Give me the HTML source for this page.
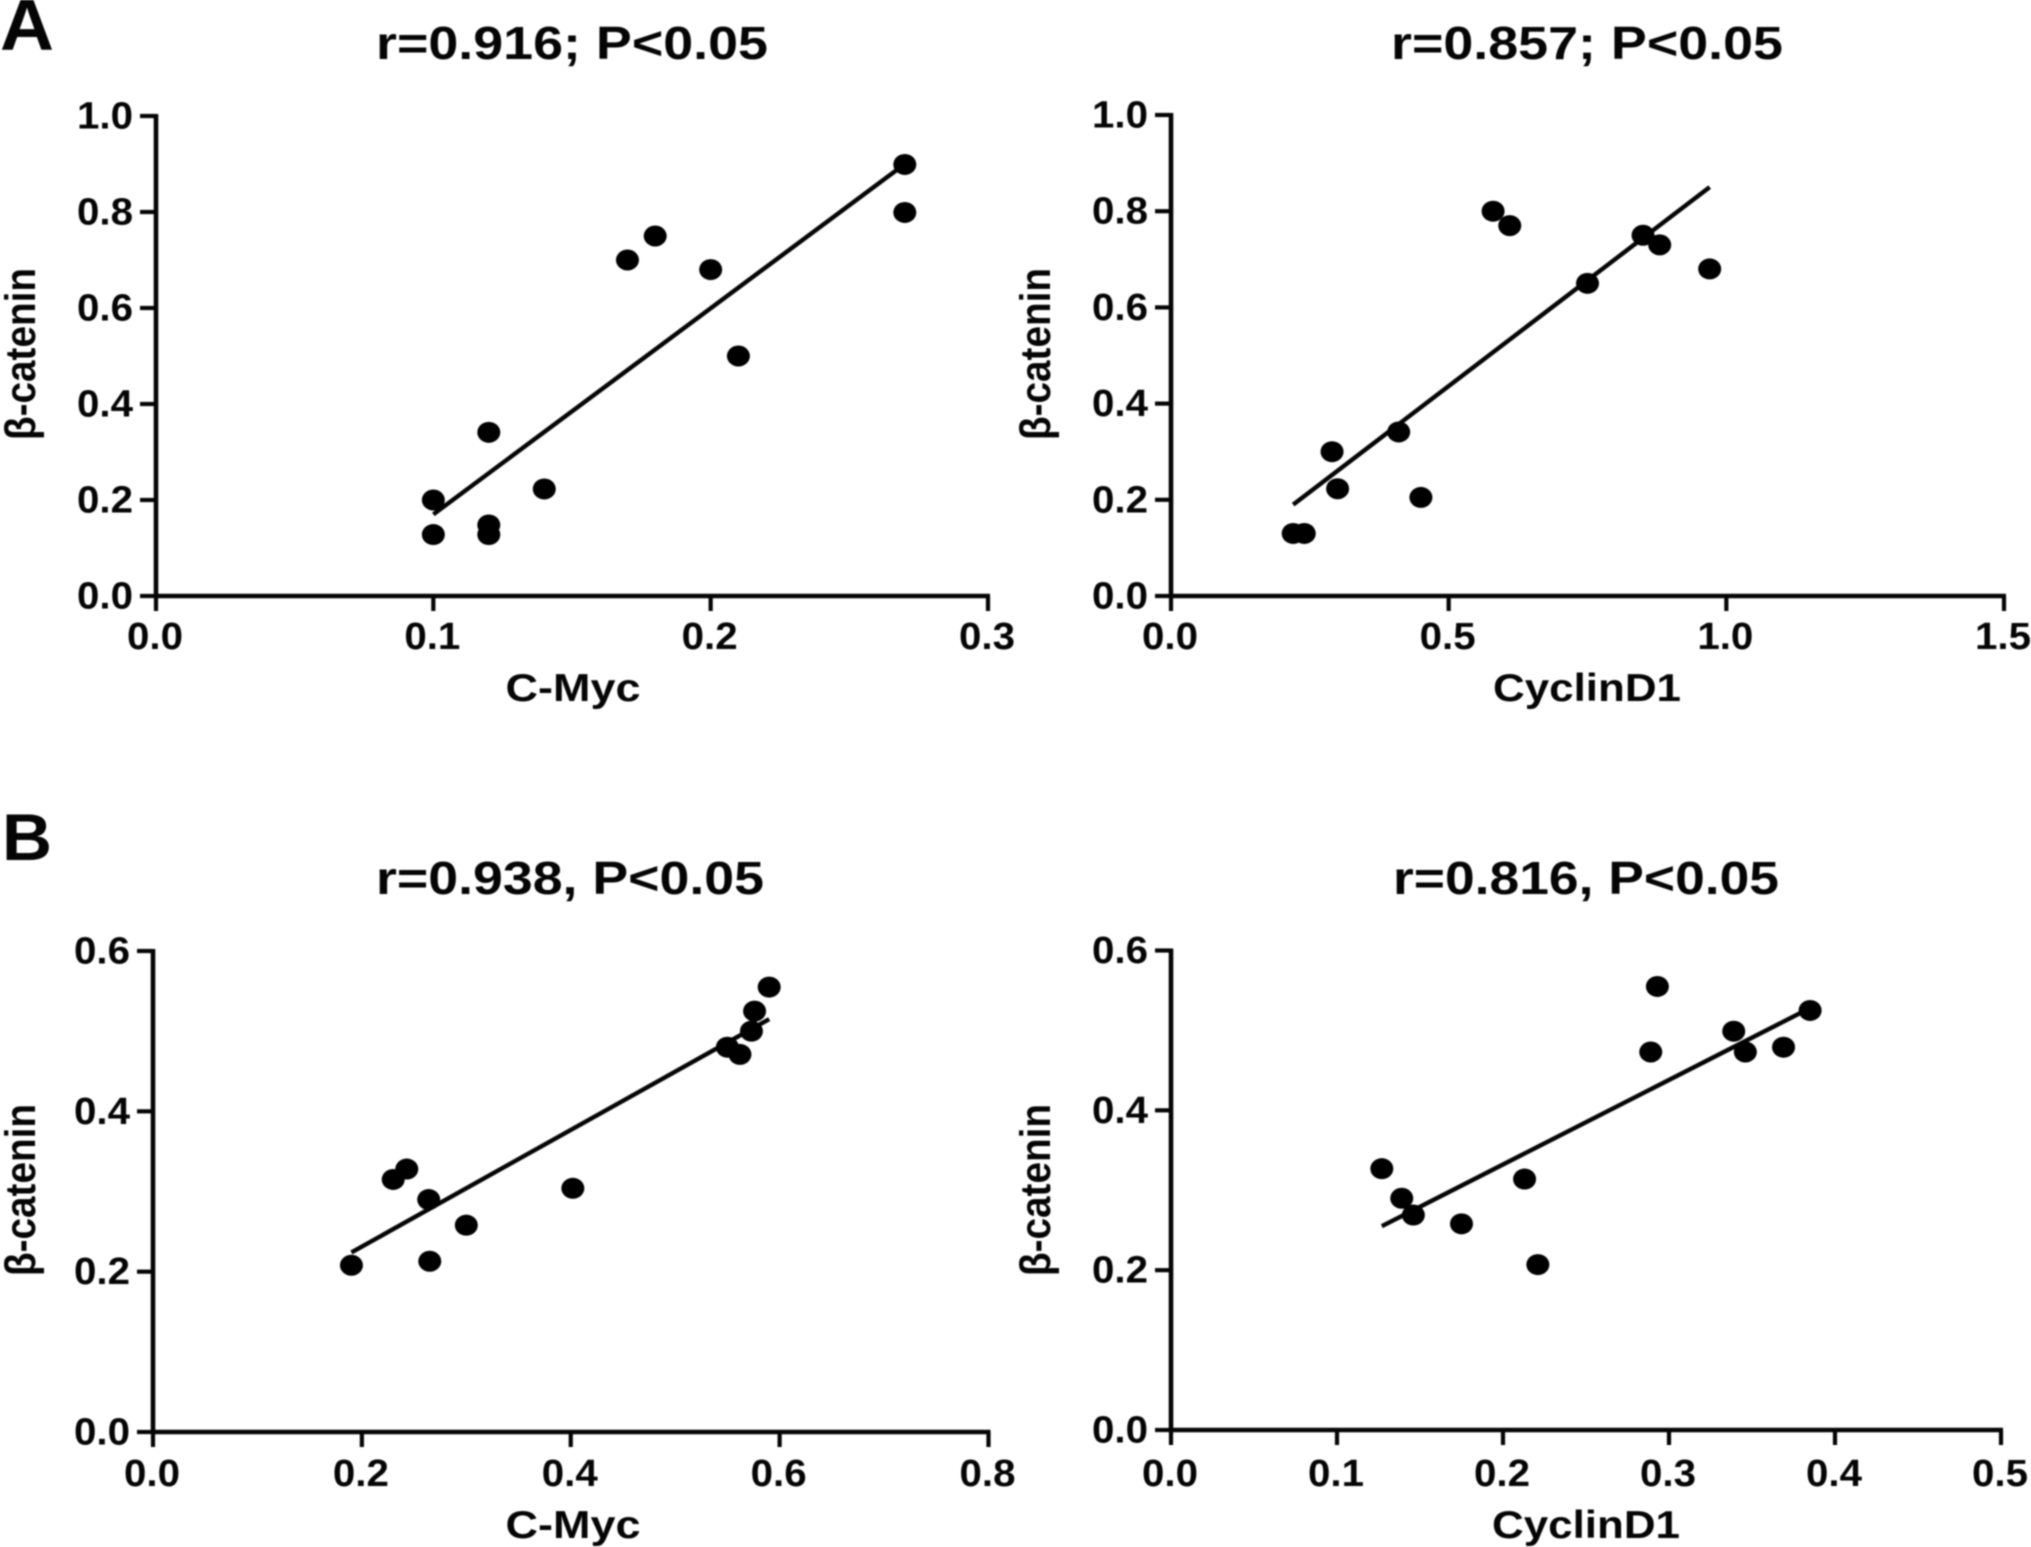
<!DOCTYPE html>
<html lang="en">
<head>
<meta charset="utf-8">
<title>β-catenin correlation scatter plots</title>
<style>
html,body{margin:0;padding:0;background:#fff;width:2031px;height:1547px;overflow:hidden}
svg{display:block;filter:blur(0.8px)}
text{font-family:"Liberation Sans",sans-serif;font-weight:bold;fill:#050505}
.title{font-size:46px;text-anchor:middle}
.axis-label{font-size:39px;text-anchor:middle}
.y-title{font-size:43px;text-anchor:middle}
.tick-label{font-size:38px}
.panel-letter{font-size:66px}
</style>
</head>
<body>
<svg id="figure" xmlns="http://www.w3.org/2000/svg" width="2031" height="1547" viewBox="0 0 2031 1547">
  <rect width="2031" height="1547" fill="#fff"/>
  <text class="panel-letter" style="font-size:72px" x="0" y="49.5" textLength="54" lengthAdjust="spacingAndGlyphs">A</text>
  <text class="panel-letter" x="2" y="860" textLength="50" lengthAdjust="spacingAndGlyphs">B</text>

  <text class="title" x="572" y="59" textLength="392" lengthAdjust="spacingAndGlyphs">r=0.916; P&lt;0.05</text>
  <text class="title" x="1587" y="59" textLength="392" lengthAdjust="spacingAndGlyphs">r=0.857; P&lt;0.05</text>
  <text class="title" x="570" y="894" textLength="388" lengthAdjust="spacingAndGlyphs">r=0.938, P&lt;0.05</text>
  <text class="title" x="1586" y="894" textLength="386" lengthAdjust="spacingAndGlyphs">r=0.816, P&lt;0.05</text>

  <text class="axis-label" x="573" y="701" textLength="135" lengthAdjust="spacingAndGlyphs">C-Myc</text>
  <text class="axis-label" x="1587" y="701" textLength="188" lengthAdjust="spacingAndGlyphs">CyclinD1</text>
  <text class="axis-label" x="573" y="1538" textLength="135" lengthAdjust="spacingAndGlyphs">C-Myc</text>
  <text class="axis-label" x="1586" y="1538" textLength="188" lengthAdjust="spacingAndGlyphs">CyclinD1</text>

  <text class="y-title" transform="translate(35,354) rotate(-90)" textLength="172" lengthAdjust="spacingAndGlyphs">β-catenin</text>
  <text class="y-title" transform="translate(1050,354) rotate(-90)" textLength="172" lengthAdjust="spacingAndGlyphs">β-catenin</text>
  <text class="y-title" transform="translate(35,1190) rotate(-90)" textLength="172" lengthAdjust="spacingAndGlyphs">β-catenin</text>
  <text class="y-title" transform="translate(1050,1190) rotate(-90)" textLength="172" lengthAdjust="spacingAndGlyphs">β-catenin</text>
</svg>
<script>
// Panel A, left: C-Myc vs beta-catenin
const aLeftXValues = [0.1, 0.1, 0.12, 0.12, 0.12, 0.14, 0.17, 0.18, 0.2, 0.21, 0.27, 0.27];
const aLeftYValues = [0.2, 0.128, 0.341, 0.148, 0.128, 0.223, 0.7, 0.75, 0.68, 0.5, 0.899, 0.799];
const aLeftFitX = [0.1, 0.27];
const aLeftFitY = [0.17, 0.9];
const aLeftXTicks = ['0.0', '0.1', '0.2', '0.3'];
const aLeftYTicks = ['0.0', '0.2', '0.4', '0.6', '0.8', '1.0'];

// Panel A, right: CyclinD1 vs beta-catenin
const aRightXValues = [0.22, 0.24, 0.29, 0.3, 0.41, 0.45, 0.58, 0.61, 0.75, 0.85, 0.88, 0.97];
const aRightYValues = [0.13, 0.13, 0.3, 0.223, 0.341, 0.205, 0.8, 0.77, 0.65, 0.75, 0.73, 0.68];
const aRightFitX = [0.22, 0.97];
const aRightFitY = [0.19, 0.85];
const aRightXTicks = ['0.0', '0.5', '1.0', '1.5'];
const aRightYTicks = ['0.0', '0.2', '0.4', '0.6', '0.8', '1.0'];

// Panel B, left: C-Myc vs beta-catenin
const bLeftXValues = [0.19, 0.23, 0.243, 0.264, 0.265, 0.3, 0.402, 0.55, 0.562, 0.573, 0.576, 0.59];
const bLeftYValues = [0.208, 0.315, 0.328, 0.29, 0.213, 0.258, 0.304, 0.48, 0.471, 0.5, 0.525, 0.555];
const bLeftFitX = [0.19, 0.59];
const bLeftFitY = [0.224, 0.515];
const bLeftXTicks = ['0.0', '0.2', '0.4', '0.6', '0.8'];
const bLeftYTicks = ['0.0', '0.2', '0.4', '0.6'];

// Panel B, right: CyclinD1 vs beta-catenin
const bRightXValues = [0.127, 0.139, 0.146, 0.175, 0.213, 0.221, 0.289, 0.293, 0.339, 0.346, 0.369, 0.385];
const bRightYValues = [0.327, 0.29, 0.269, 0.258, 0.314, 0.207, 0.473, 0.555, 0.499, 0.473, 0.479, 0.525];
const bRightFitX = [0.127, 0.385];
const bRightFitY = [0.255, 0.528];
const bRightXTicks = ['0.0', '0.1', '0.2', '0.3', '0.4', '0.5'];
const bRightYTicks = ['0.0', '0.2', '0.4', '0.6'];

const NS = 'http://www.w3.org/2000/svg';
const svg = document.getElementById('figure');

function make(parent, tag, attrs) {
  const node = document.createElementNS(NS, tag);
  for (const k in attrs) node.setAttribute(k, attrs[k]);
  parent.appendChild(node);
  return node;
}

function linearScale(d0, d1, r0, r1) {
  return function (v) { return r0 + (v - d0) / (d1 - d0) * (r1 - r0); };
}

function drawPanel(key, box, xValues, yValues, fitX, fitY, xTicks, yTicks) {
  const xMax = Number(xTicks[xTicks.length - 1]);
  const yMax = Number(yTicks[yTicks.length - 1]);
  const sx = linearScale(0, xMax, box.left, box.right);
  const sy = linearScale(0, yMax, box.bottom, box.top);

  const g = make(svg, 'g', {});
  
  

  const xAxis = make(g, 'line', { x1: box.left - 2, x2: box.right + 2, y1: box.bottom, y2: box.bottom, stroke: '#050505', 'stroke-width': 4.4 });
  
  

  const yAxis = make(g, 'line', { x1: box.left, x2: box.left, y1: box.top - 2, y2: box.bottom + 2, stroke: '#050505', 'stroke-width': 4.6 });
  
  

  xTicks.forEach(function (label) {
    const px = sx(Number(label));
    const tick = make(g, 'line', { x1: px, x2: px, y1: box.bottom, y2: box.bottom + 15, stroke: '#050505', 'stroke-width': 4.2 });
    
    
    const text = make(g, 'text', { class: 'tick-label', x: px - 1, y: box.xTickBase, 'text-anchor': 'middle', textLength: 56, lengthAdjust: 'spacingAndGlyphs' });
    text.textContent = label;
    
    
  });

  yTicks.forEach(function (label) {
    const py = sy(Number(label));
    const tick = make(g, 'line', { x1: box.left - 16, x2: box.left, y1: py, y2: py, stroke: '#050505', 'stroke-width': 4.2 });
    
    
    const text = make(g, 'text', { class: 'tick-label', x: box.left - 23, y: py + 12.5, 'text-anchor': 'end', textLength: 56, lengthAdjust: 'spacingAndGlyphs' });
    text.textContent = label;
    
    
  });

  const fit = make(g, 'line', { x1: sx(fitX[0]), y1: sy(fitY[0]), x2: sx(fitX[1]), y2: sy(fitY[1]), stroke: '#050505', 'stroke-width': 4.4 });
  
  

  xValues.forEach(function (v, i) {
    const dot = make(g, 'ellipse', { cx: sx(v), cy: sy(yValues[i]), rx: 11.5, ry: 10.5, fill: '#000' });
    
    
  });
}

drawPanel('a-left', { left: 156, right: 988, top: 116, bottom: 596, xTickBase: 649 },
  aLeftXValues, aLeftYValues, aLeftFitX, aLeftFitY, aLeftXTicks, aLeftYTicks);
drawPanel('a-right', { left: 1171, right: 2004, top: 115, bottom: 596, xTickBase: 649 },
  aRightXValues, aRightYValues, aRightFitX, aRightFitY, aRightXTicks, aRightYTicks);
drawPanel('b-left', { left: 153, right: 988.5, top: 951, bottom: 1432, xTickBase: 1486 },
  bLeftXValues, bLeftYValues, bLeftFitX, bLeftFitY, bLeftXTicks, bLeftYTicks);
drawPanel('b-right', { left: 1171, right: 2001, top: 950.5, bottom: 1430, xTickBase: 1486 },
  bRightXValues, bRightYValues, bRightFitX, bRightFitY, bRightXTicks, bRightYTicks);
</script>
</body>
</html>
